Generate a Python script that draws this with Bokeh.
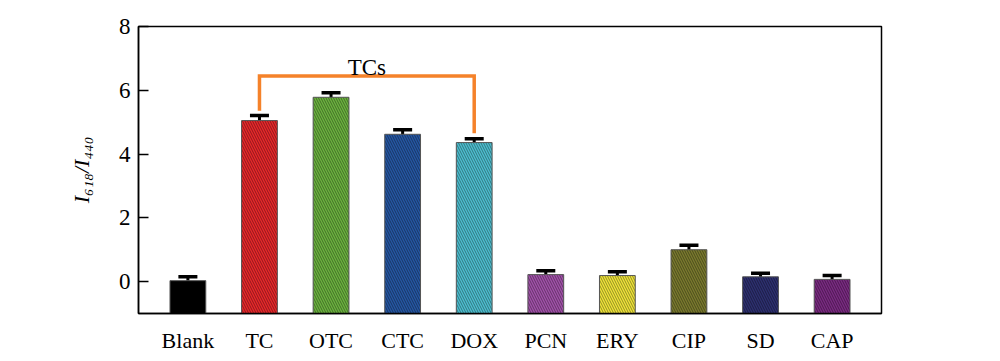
from bokeh.plotting import figure
from bokeh.models import ColumnDataSource, FactorRange, Whisker, Range1d, FixedTicker
from bokeh.core.properties import value
from bokeh.embed import file_html
from bokeh.resources import INLINE

categories = ["Blank", "TC", "OTC", "CTC", "DOX", "PCN", "ERY", "CIP", "SD", "CAP"]
values = [0.03, 5.05, 5.78, 4.62, 4.36, 0.22, 0.19, 1.00, 0.15, 0.07]
errors = [0.12, 0.16, 0.14, 0.14, 0.12, 0.12, 0.12, 0.14, 0.11, 0.12]
colors = ["#000000", "#E8282B", "#6CB33F", "#2657A3", "#4EBFD0",
          "#A252AA", "#F0E43A", "#7A7A2E", "#2D3070", "#7B2A82"]
hatches = [" ", "\\", "\\", "\\", "\\", "\\", "\\", "\\", "\\", "\\"]
y_ticks = [0, 2, 4, 6, 8]
y_title = "I\u2086\u2081\u2088/I\u2084\u2084\u2080"
group_label = "TCs"
group_members = ["TC", "DOX"]
bracket_levels = [5.36, 6.45, 6.45, 4.65]

SERIF = "Liberation Serif"
FL, FT, FW, FH = 138, 26, 743, 287

src = ColumnDataSource(dict(
    x=categories, top=values,
    upper=[v + e for v, e in zip(values, errors)],
    lower=[v - e for v, e in zip(values, errors)],
    color=colors, hatch=hatches,
))

p = figure(
    x_range=FactorRange(*categories, range_padding=0.038, range_padding_units="percent"),
    y_range=Range1d(-1, 8),
    frame_width=FW, frame_height=FH,
    min_border_left=FL, min_border_right=103, min_border_top=FT, min_border_bottom=30,
    output_backend="svg", toolbar_location=None,
)

p.vbar(x="x", top="top", bottom=-1, width=0.5, source=src,
       fill_color="color", line_color="#555555", line_width=1,
       hatch_pattern="hatch", hatch_color="#000000", hatch_alpha=0.38,
       hatch_scale=5, hatch_weight=1)

w = Whisker(base="x", upper="upper", lower="lower", source=src,
            line_color="black", line_width=3)
for head in (w.upper_head, w.lower_head):
    head.size = 19
    head.line_width = 3.5
    head.line_color = "black"
p.add_layout(w)

# bracket over TCs group
bx = [group_members[0], group_members[0], group_members[1], group_members[1]]
p.line(x=bx, y=bracket_levels, line_color="#F5822A", line_width=3.5, line_join="miter")

i0 = categories.index(group_members[0])
i1 = categories.index(group_members[1])
p.text(x=[(i0 + i1) / 2 + 0.5], y=[bracket_levels[1] + 0.27], text=[group_label],
       text_font=value(SERIF), text_font_size="23px", text_align="center",
       text_baseline="alphabetic", text_color="black")

# axes styling
p.xgrid.visible = False
p.ygrid.visible = False
p.outline_line_color = "black"
p.outline_line_width = 1.5
p.outline_line_alpha = 1

p.yaxis.ticker = FixedTicker(ticks=y_ticks)
p.yaxis.major_tick_in = 10
p.yaxis.major_tick_out = 0
p.yaxis.minor_tick_line_color = None
p.yaxis.major_label_text_font = SERIF
p.yaxis.major_label_text_font_size = "23px"
p.yaxis.major_label_standoff = 8
p.yaxis.axis_line_width = 1.5
p.yaxis.major_tick_line_width = 1.5
p.yaxis.axis_label = y_title
p.yaxis.axis_label_text_font = SERIF
p.yaxis.axis_label_text_font_size = "22px"
p.yaxis.axis_label_text_font_style = "italic"
p.yaxis.axis_label_text_color = "black"
p.yaxis.axis_label_standoff = 22

p.xaxis.major_tick_line_color = None
p.xaxis.minor_tick_line_color = None
p.xaxis.major_label_text_font = SERIF
p.xaxis.major_label_text_font_size = "22px"
p.xaxis.major_label_standoff = 8
p.xaxis.axis_line_width = 1.5

for ax in (p.xaxis[0], p.yaxis[0]):
    ax.major_label_text_color = "black"
    ax.axis_line_color = "black"

open("out.html", "w").write(file_html(p, INLINE))
